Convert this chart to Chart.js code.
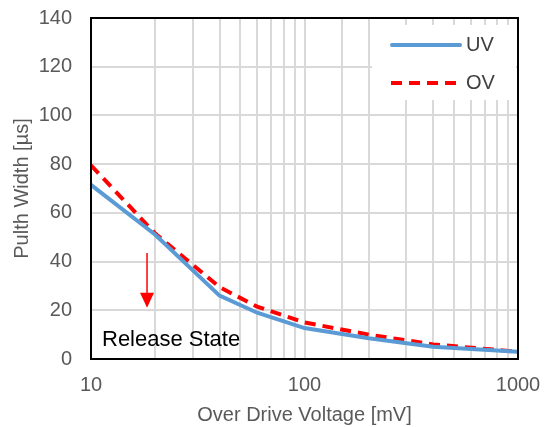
<!DOCTYPE html>
<html>
<head>
<meta charset="utf-8">
<script src="https://cdn.jsdelivr.net/npm/chart.js@4"></script>
<style>
  html, body { margin: 0; padding: 0; background: #fff; }
</style>
</head>
<body>
<canvas id="pulseChart" width="544" height="427"></canvas>
<script>
// data
var voltages = [10, 20, 40, 60, 100, 200, 400, 1000];
var uvWidth = [71.5, 51, 26, 19, 12.7, 8.5, 5, 3];
var ovWidth = [79.5, 51.5, 29.5, 21.5, 15, 10, 6, 3];
var xTickLabels = [10, 100, 1000];
var yTicks = [0, 20, 40, 60, 80, 100, 120, 140];

var FONT = "Arial, 'Liberation Sans', sans-serif";
var blue = "#5B9BD5";
var red = "#FF0000";

function toPoints(vals) {
    return voltages.map(function (v, i) { return { x: v, y: vals[i] }; });
}

// frame, legend and the "Release State" note
var extras = {
    id: 'extras',
    afterDraw: function (chart) {
        var c = chart.ctx;
        var a = chart.chartArea;
        var xs = chart.scales.x, ys = chart.scales.y;
        c.save();

        // legend box over the grid
        c.fillStyle = "#fff";
        c.fillRect(a.right - 146, a.top + 7, 144, 75);
        var lx = a.right - 127, ty = a.top + 27;
        c.lineWidth = 4;
        c.lineCap = 'round';
        c.strokeStyle = blue;
        c.beginPath(); c.moveTo(lx + 1, ty); c.lineTo(lx + 69, ty); c.stroke();
        c.strokeStyle = red;
        c.lineCap = 'butt';
        c.setLineDash([11, 7]);
        c.beginPath(); c.moveTo(lx, ty + 38); c.lineTo(lx + 70, ty + 38); c.stroke();
        c.setLineDash([]);
        c.fillStyle = "#404040";
        c.font = "20px " + FONT;
        c.textBaseline = 'middle';
        c.fillText("UV", lx + 75, ty);
        c.fillText("OV", lx + 75, ty + 38);

        // arrow
        var ax = xs.getPixelForValue(18.3);
        var y1 = ys.getPixelForValue(43.5);
        var y2 = ys.getPixelForValue(21);
        c.strokeStyle = red;
        c.fillStyle = red;
        c.lineWidth = 1.5;
        c.beginPath(); c.moveTo(ax, y1); c.lineTo(ax, y2 - 12); c.stroke();
        c.beginPath();
        c.moveTo(ax - 7, y2 - 15); c.lineTo(ax + 7, y2 - 15); c.lineTo(ax, y2); c.closePath();
        c.fill();

        // note text
        c.fillStyle = "#000";
        c.font = "22px " + FONT;
        c.textBaseline = 'alphabetic';
        c.fillText("Release State", a.left + 11, a.bottom - 13);

        // plot frame
        c.strokeStyle = "#000";
        c.lineWidth = 2;
        c.strokeRect(a.left, a.top, a.right - a.left, a.bottom - a.top);
        c.restore();
    }
};

var ctx = document.getElementById("pulseChart").getContext('2d');
var pulseChart = new Chart(ctx, {
    type: 'line',
    data: {
        datasets: [
            {
                label: 'UV',
                data: toPoints(uvWidth),
                borderColor: blue,
                borderWidth: 4,
                pointRadius: 0,
                tension: 0,
                fill: false
            },
            {
                label: 'OV',
                data: toPoints(ovWidth),
                borderColor: red,
                borderWidth: 4,
                borderDash: [11, 7],
                pointRadius: 0,
                tension: 0,
                fill: false
            }
        ]
    },
    options: {
        responsive: false,
        animation: false,
        devicePixelRatio: 1,
        layout: { padding: { top: 18, right: 26, left: 0, bottom: 0 } },
        plugins: {
            legend: { display: false },
            tooltip: { enabled: false }
        },
        scales: {
            x: {
                type: 'logarithmic',
                min: 10,
                max: 1000,
                afterFit: function (s) {
                    s.height = 68;
                    s.paddingLeft = 0;
                    s.paddingRight = 0;
                },
                grid: { color: "#d9d9d9", lineWidth: 2, drawTicks: false },
                border: { display: false },
                ticks: {
                    autoSkip: false,
                    maxRotation: 0,
                    padding: 14,
                    color: "#595959",
                    font: { family: FONT, size: 20 },
                    callback: function (v) {
                        return xTickLabels.indexOf(v) >= 0 ? String(v) : '';
                    }
                },
                title: {
                    display: true,
                    text: 'Over Drive Voltage [mV]',
                    color: "#595959",
                    font: { family: FONT, size: 20 },
                    padding: { top: 9, bottom: 0 }
                }
            },
            y: {
                min: 0,
                max: 140,
                afterFit: function (s) {
                    s.width = 91;
                    s.paddingTop = 0;
                    s.paddingBottom = 0;
                },
                afterBuildTicks: function (s) {
                    s.ticks = yTicks.map(function (v) { return { value: v }; });
                },
                grid: { color: "#d9d9d9", lineWidth: 2, drawTicks: false },
                border: { display: false },
                ticks: {
                    padding: 19,
                    color: "#595959",
                    font: { family: FONT, size: 20 }
                },
                title: {
                    display: true,
                    text: 'Pulth Width [µs]',
                    color: "#595959",
                    font: { family: FONT, size: 20 },
                    padding: { top: 10, bottom: 0 }
                }
            }
        }
    },
    plugins: [extras]
});
</script>
</body>
</html>
